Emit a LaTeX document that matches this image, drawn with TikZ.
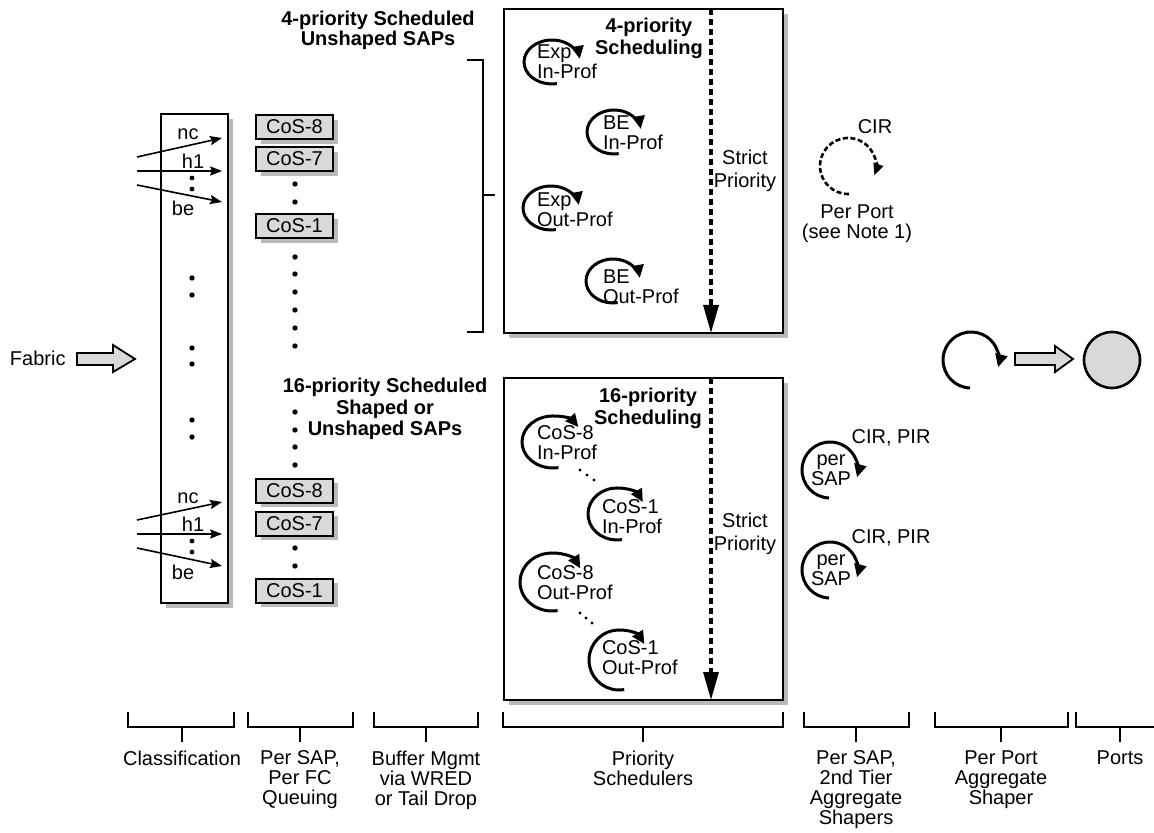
\documentclass[tikz,border=0pt]{standalone}
\usepackage{fontspec}
\setmainfont{Liberation Sans}
\usetikzlibrary{arrows.meta,shadows}
% #1 name, #2 cx, #3 cy, #4 rx, #5 ry (px), #6 end angle (screen), #7 text x, #8 text top y, #9 text
\newcommand\schicon[9]{%
  \pgfmathsetmacro\rxx{#4*0.5}\pgfmathsetmacro\ryy{#5*0.5}%
  \draw[arcline] (#2,#3) ++(-80:\rxx pt and \ryy pt) arc[start angle=-80,end angle=-#6,x radius=\rxx pt,y radius=\ryy pt];
  \node[anchor=north west,align=left] (#1) at (#7,#8) {#9};}
\newcommand\bottombrk[4]{% #1 name, #2 x1, #3 x2, #4 tick x
  \coordinate (#1a) at (#2,712); \coordinate (#1b) at (#2,727);
  \coordinate (#1c) at (#3,727); \coordinate (#1d) at (#3,712);
  \coordinate (#1t) at (#4,727); \coordinate (#1u) at (#4,742);
  \draw[brk] (#1a) -- (#1b) -- (#1c) -- (#1d);
  \draw[brk] (#1t) -- (#1u);}
\begin{document}
\begin{tikzpicture}[x=0.5pt,y=-0.5pt,
  every node/.style={font=\fontsize{10}{10}\selectfont, inner sep=0pt, outer sep=0pt},
  shad/.style={drop shadow={shadow xshift=2.3pt,shadow yshift=-2.3pt,fill=black!27,opacity=1}},
  box/.style={draw, line width=1.1pt, fill=white, shad},
  cosbox/.style={draw, line width=1pt, fill=black!15, minimum width=38.5pt, minimum height=12pt, shad},
  arcline/.style={line width=1.5pt, -{Triangle[length=6.5pt,width=6pt]}},
  inarrow/.style={line width=0.8pt, -{Stealth[length=6pt,width=4.6pt,inset=1pt]}},
  bigdot/.style={circle, fill=black, minimum size=2.7pt, inner sep=0pt},
  smalldot/.style={circle, fill=black, minimum size=1.6pt, inner sep=0pt},
  prio/.style={line width=1.6pt, dash pattern=on 3.2pt off 1.8pt, -{Triangle[length=14pt,width=7.5pt]}},
  brk/.style={line width=0.8pt},
  title/.style={font=\bfseries\fontsize{10}{10}\selectfont, align=center},
  blockarrow/.style={draw, line width=0.9pt, fill=black!15}]
\useasboundingbox (0,0) rectangle (1154,833);

% ---------- Fabric input ----------
\node[anchor=west] (fabric) at (10,358) {Fabric};
\draw[blockarrow] (77,353) -- (113,353) -- (113,345) -- (135,359) -- (113,372) -- (113,365) -- (77,365) -- cycle;

% ---------- Classification box ----------
\node[box, minimum width=33.5pt, minimum height=244.5pt] (cls) at (194.5,358.5) {};

% upper forwarding class arrows
\coordinate (ncAs) at (137,157); \coordinate (ncAe) at (222,138);
\coordinate (hAs) at (137,171);  \coordinate (hAe) at (222,171);
\coordinate (beAs) at (137,185); \coordinate (beAe) at (222,202);
\draw[inarrow] (ncAs) -- (ncAe);
\draw[inarrow] (hAs) -- (hAe);
\draw[inarrow] (beAs) -- (beAe);
\node (ncA) at (188,134) {nc};
\node (h1A) at (193,161) {h1};
\node (beA) at (183,208) {be};
\node[smalldot,minimum size=2.4pt] (dA1) at (192,178) {};
\node[smalldot,minimum size=2.4pt] (dA2) at (192,189) {};

% lower forwarding class arrows
\coordinate (ncBs) at (137,520); \coordinate (ncBe) at (222,502);
\coordinate (hBs) at (137,534);  \coordinate (hBe) at (222,534);
\coordinate (beBs) at (137,548); \coordinate (beBe) at (222,566);
\draw[inarrow] (ncBs) -- (ncBe);
\draw[inarrow] (hBs) -- (hBe);
\draw[inarrow] (beBs) -- (beBe);
\node (ncB) at (188,498) {nc};
\node (h1B) at (193,524) {h1};
\node (beB) at (183,572) {be};
\node[smalldot,minimum size=2.4pt] (dB1) at (192,541) {};
\node[smalldot,minimum size=2.4pt] (dB2) at (192,552) {};

% dots in classification box
\foreach \yy [count=\i] in {278,295,348,364,420,437}
  \node[bigdot] (cd\i) at (192,\yy) {};

% ---------- CoS queues ----------
\node[cosbox] (c8a) at (294.5,127) {CoS-8};
\node[cosbox] (c7a) at (294.5,159) {CoS-7};
\node[cosbox] (c1a) at (294.5,226) {CoS-1};
\node[cosbox] (c8b) at (294.5,490.5) {CoS-8};
\node[cosbox] (c7b) at (294.5,523.5) {CoS-7};
\node[cosbox] (c1b) at (294.5,590.5) {CoS-1};
\foreach \yy [count=\i] in {184,202,257,274,292,310,328,346,412,430,447,465,548,566}
  \node[bigdot] (qd\i) at (295,\yy) {};

% ---------- titles ----------
\node[title, anchor=north] (t4) at (378,11) {4-priority Scheduled\\Unshaped SAPs};
\node[title, anchor=north, font=\bfseries\fontsize{10}{10.8}\selectfont] (t16) at (385,378) {16-priority Scheduled\\Shaped or\\Unshaped SAPs};

% bracket
\coordinate (bk1) at (467,60); \coordinate (bk2) at (483,60);
\coordinate (bk3) at (483,332); \coordinate (bk4) at (467,332);
\coordinate (bk5) at (483,195); \coordinate (bk6) at (495,195);
\draw[line width=0.9pt] (bk1) -- (bk2) -- (bk3) -- (bk4);
\draw[line width=0.9pt] (bk5) -- (bk6);

% ---------- scheduler boxes ----------
\node[box, minimum width=139.5pt, minimum height=162pt] (s4) at (643.5,171) {};
\node[box, minimum width=139.5pt, minimum height=161pt] (s16) at (643.5,539) {};

\coordinate (p4t) at (711,9);   \coordinate (p4b) at (711,333);
\coordinate (p16t) at (711,378); \coordinate (p16b) at (711,700);
\draw[prio] (p4t) -- (p4b);
\draw[prio] (p16t) -- (p16b);

\node[title, anchor=north, font=\bfseries\fontsize{10}{11}\selectfont] (h4) at (649,18) {4-priority\\Scheduling};
\node[title, anchor=north, font=\bfseries\fontsize{10}{11}\selectfont] (h16) at (648,388) {16-priority\\Scheduling};

\node[anchor=north, align=center, font=\fontsize{10}{11.5}\selectfont] (sp4) at (745,150) {Strict\\Priority};
\node[anchor=north, align=center, font=\fontsize{10}{11.5}\selectfont] (sp16) at (745,513) {Strict\\Priority};

% 4-priority icons
\schicon{i1}{552}{62}{28}{22}{352}{537}{45}{Exp\\In-Prof}
\schicon{i2}{614}{132}{27}{22}{352}{603}{116}{BE\\In-Prof}
\schicon{i3}{551}{208}{28}{22}{352}{537}{193}{Exp\\Out-Prof}
\schicon{i4}{613}{281}{27}{22}{352}{603}{270}{BE\\Out-Prof}
% 16-priority icons
\schicon{j1}{553}{442}{31}{26}{325}{537}{426}{CoS-8\\In-Prof}
\schicon{j2}{617}{514}{29}{26}{333}{602}{500}{CoS-1\\In-Prof}
\schicon{j3}{552}{582}{32}{29}{332}{537}{566}{CoS-8\\Out-Prof}
\schicon{j4}{619}{660}{30}{30}{328}{602}{641}{CoS-1\\Out-Prof}
\foreach \xx/\yy [count=\i] in {580/470,587/475,594/480,580/613,586/618,592/623}
  \node[smalldot] (sd\i) at (\xx,\yy) {};

% ---------- per port CIR ----------
\draw[line width=1.3pt, dash pattern=on 2.5pt off 1.3pt, -{Triangle[length=6pt,width=5pt]}]
  (848,166) ++(-88:14pt) arc[start angle=-88,end angle=-380,radius=14pt];
\node (cir) at (875,127) {CIR};
\node[anchor=north, align=center] (pp) at (857,205) {Per Port\\(see Note 1)};

% ---------- per SAP shapers ----------
\draw[arcline] (830,470) ++(-92:14pt) arc[start angle=-92,end angle=-375,radius=14pt];
\node[align=center, font=\fontsize{10}{9}\selectfont] (ps1) at (831,470) {per\\SAP};
\node (cp1) at (891,438) {CIR, PIR};
\draw[arcline] (830,570) ++(-92:14pt) arc[start angle=-92,end angle=-375,radius=14pt];
\node[align=center, font=\fontsize{10}{9}\selectfont] (ps2) at (831,570) {per\\SAP};
\node (cp2) at (891,538) {CIR, PIR};

% ---------- port shaper and port ----------
\draw[arcline] (971,360) ++(-92:14pt) arc[start angle=-92,end angle=-375,radius=14pt];
\draw[blockarrow] (1015,353) -- (1055,353) -- (1055,346) -- (1073,359) -- (1055,372) -- (1055,365) -- (1015,365) -- cycle;
\node[circle, draw, line width=1.3pt, fill=black!15, minimum size=28pt] (port) at (1112,360) {};

% ---------- bottom brackets ----------
\bottombrk{ba}{128}{234}{182}
\bottombrk{bb}{248}{353}{300}
\bottombrk{bc}{374}{478}{426}
\bottombrk{bd}{503}{783}{643}
\bottombrk{be}{804}{909}{856}
\bottombrk{bf}{935}{1068}{1001}
\bottombrk{bg}{1076}{1170}{1120}
\node[anchor=north, align=center] (la) at (182,751) {Classification};
\node[anchor=north, align=center] (lb) at (300,751) {Per SAP,\\Per FC\\Queuing};
\node[anchor=north, align=center] (lc) at (426,751) {Buffer Mgmt\\via WRED\\or Tail Drop};
\node[anchor=north, align=center] (ld) at (643,751) {Priority\\Schedulers};
\node[anchor=north, align=center] (le) at (856,751) {Per SAP,\\2nd Tier\\Aggregate\\Shapers};
\node[anchor=north, align=center] (lf) at (1001,751) {Per Port\\Aggregate\\Shaper};
\node[anchor=north, align=center] (lg) at (1120,751) {Ports};
\end{tikzpicture}
\end{document}
